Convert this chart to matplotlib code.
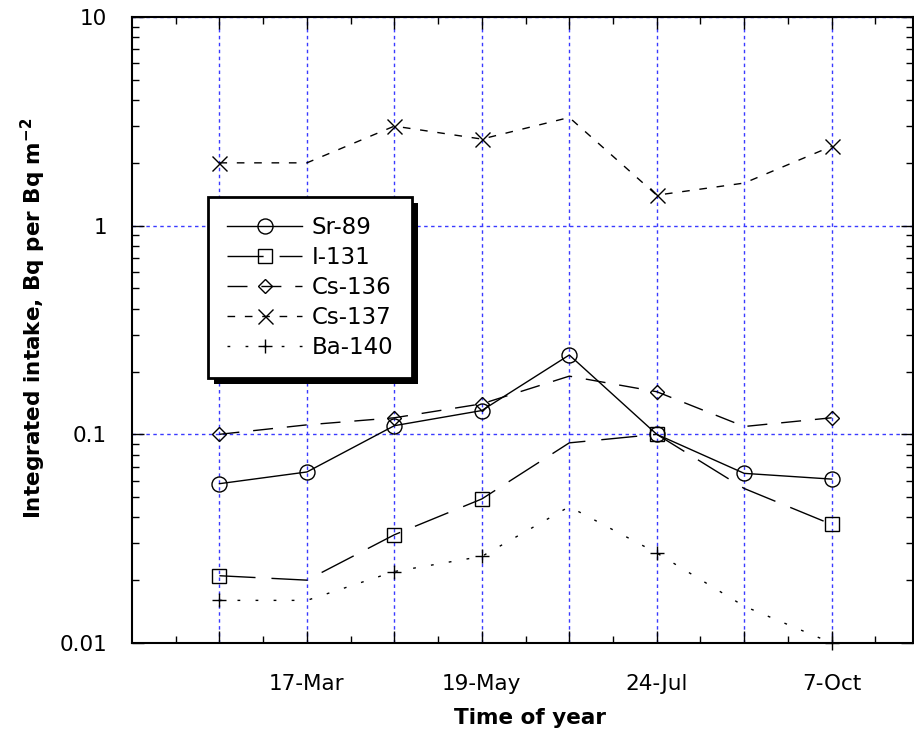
import numpy as np
import matplotlib
matplotlib.use("Agg")
import matplotlib.pyplot as plt
from matplotlib.ticker import FixedLocator, FuncFormatter, LogLocator, NullFormatter
from matplotlib.patches import Rectangle

# data (8 sampling times, evenly spaced on the axis)
x_pos = [0, 1, 2, 3, 4, 5, 6, 7]
tick_labels = ["", "17-Mar", "", "19-May", "", "24-Jul", "", "7-Oct"]

sr89 = [0.058, 0.066, 0.11, 0.13, 0.24, 0.10, 0.065, 0.061]
i131 = [0.021, 0.020, 0.033, 0.049, 0.091, 0.10, 0.055, 0.037]
cs136 = [0.10, 0.111, 0.12, 0.14, 0.19, 0.16, 0.109, 0.12]
cs137 = [2.0, 2.0, 3.0, 2.6, 3.3, 1.4, 1.6, 2.4]
ba140 = [0.016, 0.016, 0.022, 0.026, 0.045, 0.027, 0.015, 0.010]

marked = [0, 2, 3, 5, 7]  # points that carry a symbol

fig = plt.figure(figsize=(9.14, 7.36), dpi=100)
ax = fig.add_axes([0.1444, 0.1264, 0.8545, 0.8505])

ax.plot(x_pos, sr89, color='k', lw=1, ls='-', marker='o', ms=10.8,
        mfc='none', mec='k', mew=1, label='Sr-89')
ax.plot(x_pos, i131, color='k', lw=1, ls=(0, (26, 11.5)), marker='s', ms=10,
        mfc='none', mec='k', mew=1, markevery=marked, label='I-131')
ax.plot(x_pos, cs136, color='k', lw=1, ls=(0, (14.4, 10)), marker='D', ms=7.2,
        mfc='none', mec='k', mew=1, markevery=marked, label='Cs-136')
ax.plot(x_pos, cs137, color='k', lw=1, ls=(0, (5.5, 7)), marker='x', ms=10.8,
        mec='k', mew=1, markevery=marked, label='Cs-137')
ax.plot(x_pos, ba140, color='k', lw=1, ls=(0, (2, 11)), marker='+', ms=10.5,
        mec='k', mew=1, markevery=marked, label='Ba-140', clip_on=False)

ax.set_yscale('log')
ax.set_ylim(0.01, 10)
ax.set_xlim(-1, 7.93)

ax.xaxis.set_major_locator(FixedLocator(x_pos))
ax.set_xticklabels(tick_labels)
ax.xaxis.set_minor_locator(FixedLocator(np.arange(-0.5, 8, 1.0)))
ax.yaxis.set_major_locator(LogLocator(base=10, numticks=10))
ax.yaxis.set_minor_locator(LogLocator(base=10, subs=np.arange(2, 10), numticks=10))
ax.yaxis.set_major_formatter(FuncFormatter(lambda v, p: '%g' % v))
ax.yaxis.set_minor_formatter(NullFormatter())

ax.tick_params(which='both', direction='in', top=True, right=True, width=1, colors='k')
ax.tick_params(which='major', length=8.5)
ax.tick_params(which='minor', length=5)
ax.tick_params(axis='x', which='major', pad=22, labelsize=15.5)
ax.tick_params(axis='y', which='major', pad=18, labelsize=15.5)

ax.grid(True, which='major', color='#3a3aff', ls=(0, (2.5, 2.5)), lw=1)
for s in ax.spines.values():
    s.set_linewidth(1.5)
    s.set_color('k')

ax.set_xlabel('Time of year', fontsize=15.5, fontweight='bold')
ax.set_ylabel(r'Integrated intake, Bq per Bq m$^{\mathbf{-2}}$', fontsize=15.5, fontweight='bold')
ax.xaxis.set_label_coords(0.51, -0.104)
ax.yaxis.set_label_coords(-0.1076, 0.519)

leg = ax.legend(loc='upper left', bbox_to_anchor=(0.0973, 0.7125), borderaxespad=0,
                fontsize=16.5, numpoints=1, handlelength=3.26, handletextpad=0.4,
                labelspacing=0.3, borderpad=0.85, fancybox=False, framealpha=1)
leg.get_frame().set_edgecolor('k')
leg.get_frame().set_linewidth(2)
leg.set_zorder(6)

# solid black drop shadow behind the legend box
fig.canvas.draw()
bb = leg.get_frame().get_window_extent()
inv = ax.transAxes.inverted()
(x0, y0), (x1, y1) = inv.transform([[bb.x0 + 6, bb.y0 - 6], [bb.x1 + 6, bb.y1 - 6]])
ax.add_patch(Rectangle((x0, y0), x1 - x0, y1 - y0, transform=ax.transAxes,
                       facecolor='k', edgecolor='none', zorder=5.5, clip_on=False))

fig.savefig('out.png', dpi=100)
